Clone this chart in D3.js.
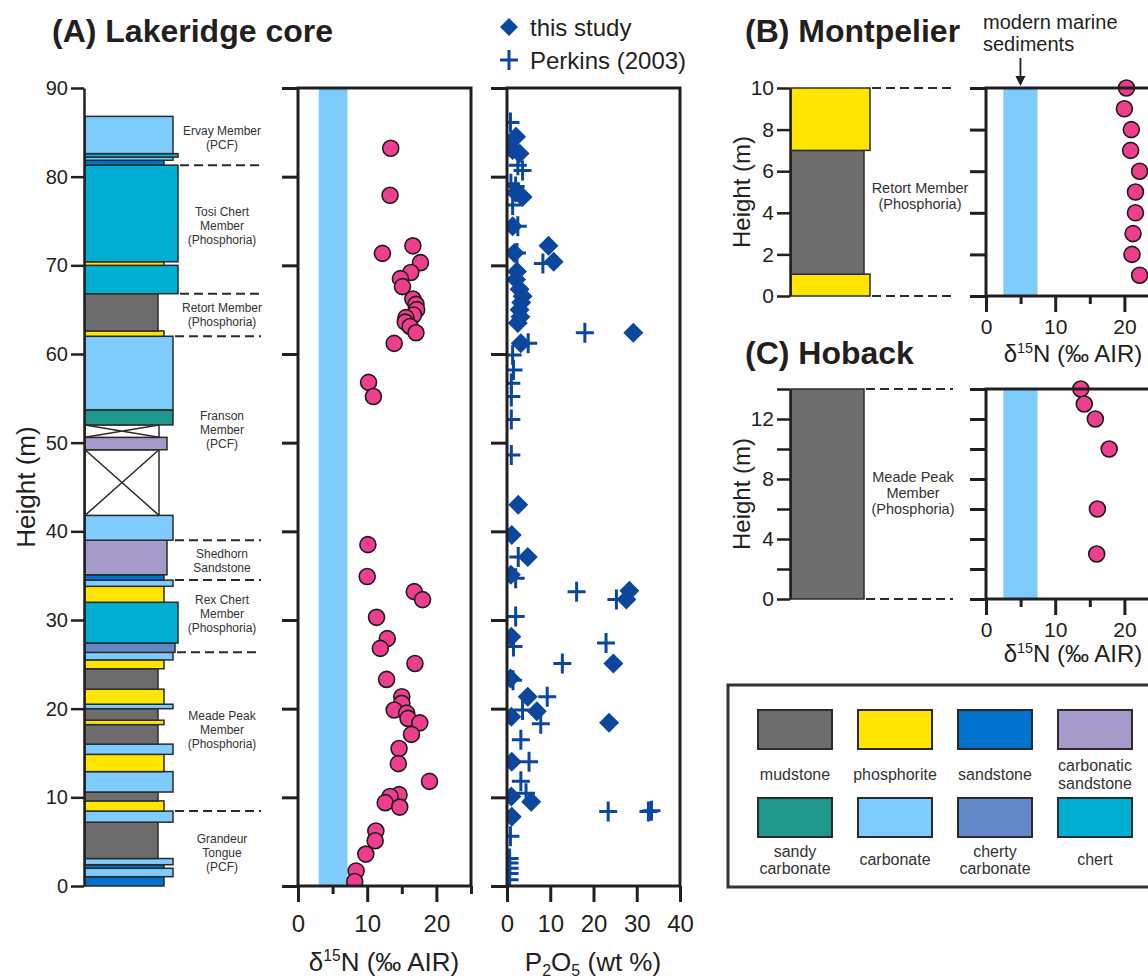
<!DOCTYPE html>
<html>
<head>
<meta charset="utf-8">
<script src="https://cdn.jsdelivr.net/npm/d3@7"></script>
<style>
  body { margin: 0; background: #fff; }
  text { font-family: "Liberation Sans", Arial, Helvetica, sans-serif; }
</style>
</head>
<body>
<svg id="fig" width="1148" height="979"></svg>
<script>
// ---- data ----------------------------------------------------------------

// Lakeridge core beds (m above base)
const lakeridgeBeds = [
  { base: 0, top: 1.05, lith: 'sandstone' },
  { base: 1.05, top: 2.0, lith: 'carbonate' },
  { base: 2.0, top: 2.4, lith: 'sandstone' },
  { base: 2.4, top: 3.1, lith: 'carbonate' },
  { base: 3.1, top: 7.2, lith: 'mudstone' },
  { base: 7.2, top: 8.45, lith: 'carbonate' },
  { base: 8.45, top: 9.6, lith: 'phosphorite' },
  { base: 9.6, top: 10.6, lith: 'mudstone' },
  { base: 10.6, top: 12.9, lith: 'carbonate' },
  { base: 12.9, top: 14.85, lith: 'phosphorite' },
  { base: 14.85, top: 16.0, lith: 'carbonate' },
  { base: 16.0, top: 18.2, lith: 'mudstone' },
  { base: 18.2, top: 18.7, lith: 'phosphorite' },
  { base: 18.7, top: 20.0, lith: 'mudstone' },
  { base: 20.0, top: 20.5, lith: 'carbonate' },
  { base: 20.5, top: 22.2, lith: 'phosphorite' },
  { base: 22.2, top: 24.5, lith: 'mudstone' },
  { base: 24.5, top: 25.5, lith: 'phosphorite' },
  { base: 25.5, top: 26.35, lith: 'carbonate' },
  { base: 26.35, top: 27.4, lith: 'cherty carbonate' },
  { base: 27.4, top: 32.0, lith: 'chert' },
  { base: 32.0, top: 33.8, lith: 'phosphorite' },
  { base: 33.8, top: 34.5, lith: 'carbonate' },
  { base: 34.5, top: 35.1, lith: 'sandstone' },
  { base: 35.1, top: 39.0, lith: 'carbonatic sandstone' },
  { base: 39.0, top: 41.8, lith: 'carbonate' },
  { base: 41.8, top: 49.2, lith: 'covered' },
  { base: 49.2, top: 50.6, lith: 'carbonatic sandstone' },
  { base: 50.6, top: 52.0, lith: 'covered' },
  { base: 52.0, top: 53.7, lith: 'sandy carbonate' },
  { base: 53.7, top: 62.0, lith: 'carbonate' },
  { base: 62.0, top: 62.6, lith: 'phosphorite' },
  { base: 62.6, top: 66.8, lith: 'mudstone' },
  { base: 66.8, top: 70.0, lith: 'chert' },
  { base: 70.0, top: 70.4, lith: 'phosphorite' },
  { base: 70.4, top: 81.3, lith: 'chert' },
  { base: 81.3, top: 81.85, lith: 'sandstone' },
  { base: 81.85, top: 82.2, lith: 'carbonate' },
  { base: 82.2, top: 82.6, lith: 'chert' },
  { base: 82.6, top: 86.8, lith: 'carbonate' }
];
const lakeridgeContacts = [8.45, 26.35, 34.5, 39.0, 62.0, 66.8, 81.3];
const lakeridgeMembers = [
  { lines: ['Ervay Member', '(PCF)'], at: 84.4 },
  { lines: ['Tosi Chert', 'Member', '(Phosphoria)'], at: 74.5 },
  { lines: ['Retort Member', '(Phosphoria)'], at: 64.4 },
  { lines: ['Franson', 'Member', '(PCF)'], at: 51.5 },
  { lines: ['Shedhorn', 'Sandstone'], at: 36.65 },
  { lines: ['Rex Chert', 'Member', '(Phosphoria)'], at: 30.7 },
  { lines: ['Meade Peak', 'Member', '(Phosphoria)'], at: 17.6 },
  { lines: ['Grandeur', 'Tongue', '(PCF)'], at: 3.8 }
];

// [height m, d15N permil]
const lakeridgeN = [
  [83.2, 13.4], [77.9, 13.3], [71.35, 12.2], [72.2, 16.6], [70.3, 17.7],
  [69.2, 16.3], [68.5, 14.8], [67.6, 15.1], [66.2, 16.6], [65.6, 17.05],
  [65.0, 17.15], [64.4, 16.7], [64.1, 15.6], [63.6, 15.5], [63.1, 16.2],
  [62.4, 17.05], [61.2, 13.9], [56.8, 10.2], [55.2, 10.9],
  [38.5, 10.1], [34.9, 10.0], [33.2, 16.8], [32.3, 18.0], [30.3, 11.35],
  [27.9, 12.9], [26.8, 11.9], [25.1, 16.9], [23.3, 12.8], [21.35, 15.0],
  [20.6, 15.0], [19.85, 13.9], [19.5, 15.7], [18.9, 15.9], [18.4, 17.6],
  [17.1, 16.4], [15.5, 14.6], [13.8, 14.5], [11.8, 19.0], [10.3, 14.6],
  [10.1, 13.3], [9.4, 12.6], [8.9, 14.7], [6.2, 11.25], [5.1, 11.15],
  [3.6, 9.8], [1.7, 8.4], [0.5, 8.2]
];

// [height m, P2O5 wt%]
const thisStudyP = [
  [84.5, 2.1], [83.0, 1.3], [82.6, 2.9], [78.2, 2.0], [77.7, 3.6], [74.4, 1.3],
  [71.4, 1.7], [72.2, 9.6], [70.4, 10.8], [69.3, 2.3], [68.4, 2.1], [67.3, 2.9],
  [66.5, 3.6], [65.8, 3.3], [65.0, 2.9], [64.2, 3.1], [63.5, 2.5], [62.4, 29.2],
  [61.2, 3.2], [43.0, 2.6], [39.6, 1.1], [37.1, 4.8], [35.1, 0.9], [33.3, 28.3],
  [32.3, 27.6], [28.1, 1.0], [25.1, 24.6], [23.4, 0.8], [21.35, 4.8], [19.7, 6.9],
  [19.1, 1.0], [18.4, 23.6], [14.0, 1.1], [10.1, 1.0], [9.5, 5.6], [7.8, 1.1]
];
const perkinsP = [
  [86.1, 0.8], [83.4, 0.6], [81.3, 2.5], [80.7, 3.6], [79.2, 0.9], [78.9, 2.0],
  [76.8, 1.3], [74.4, 2.5], [71.4, 2.3], [70.2, 8.3], [62.4, 18.0], [61.2, 4.9],
  [59.9, 1.3], [58.2, 1.5], [56.7, 1.0], [55.2, 1.0], [52.6, 1.0], [48.6, 1.0],
  [37.1, 2.6], [34.7, 2.0], [33.2, 16.1], [32.3, 25.3], [30.4, 2.0], [27.4, 22.9],
  [27.0, 1.5], [25.1, 12.8], [23.2, 1.4], [21.35, 9.3], [19.85, 3.6], [18.3, 7.8],
  [16.5, 3.2], [14.0, 5.1], [11.8, 3.2], [10.45, 4.4], [8.4, 23.4], [8.4, 32.7],
  [8.5, 33.4], [5.6, 0.8], [3.1, 0.6], [2.6, 0.6], [2.0, 0.6], [1.4, 0.6], [0.7, 0.6]
];

// Montpelier and Hoback sections
const montpelierBeds = [
  { base: 0, top: 1.05, lith: 'phosphorite' },
  { base: 1.05, top: 7.0, lith: 'mudstone' },
  { base: 7.0, top: 10, lith: 'phosphorite' }
];
const montpelierN = [
  [10, 20.3], [9, 20.0], [8, 21.0], [7, 20.9], [6, 22.2],
  [5, 21.6], [4, 21.6], [3, 21.25], [2, 21.1], [1, 22.2]
];
const hobackBeds = [{ base: 0, top: 14, lith: 'mudstone' }];
const hobackN = [[14, 13.7], [13, 14.2], [12, 15.8], [10, 17.8], [6, 16.1], [3, 16.0]];

const modernMarineA = [3, 7.15];
const modernMarineBC = [2.5, 7.45];

const legendOrder = ['mudstone', 'phosphorite', 'sandstone', 'carbonatic sandstone',
  'sandy carbonate', 'carbonate', 'cherty carbonate', 'chert'];
const legendLabels = [['mudstone'], ['phosphorite'], ['sandstone'], ['carbonatic', 'sandstone'],
  ['sandy', 'carbonate'], ['carbonate'], ['cherty', 'carbonate'], ['chert']];

// ---- styles --------------------------------------------------------------

const lithStyle = {
  mudstone: { fill: '#6d6d6d', w: 73 },
  phosphorite: { fill: '#ffe500', w: 79 },
  sandstone: { fill: '#0071cd', w: 79 },
  'carbonatic sandstone': { fill: '#a69acb', w: 82 },
  'sandy carbonate': { fill: '#1f978a', w: 88 },
  carbonate: { fill: '#7ecbfd', w: 88 },
  'cherty carbonate': { fill: '#6487c5', w: 90 },
  chert: { fill: '#00afd1', w: 93 },
  covered: { fill: '#fff', w: 74 }
};
const ink = '#231f20';
const pink = '#ef3e8d';
const blue = '#0b479e';
const bandBlue = '#7ecbfd';

const svg = d3.select('#fig');

// ---- helpers -------------------------------------------------------------

function drawColumn(g, beds, y, left, contacts, dashEnd) {
  g.selectAll('rect.bed').data(beds).join('rect')
    .attr('class', 'bed')
    .attr('x', left)
    .attr('y', d => y(d.top))
    .attr('width', d => lithStyle[d.lith].w)
    .attr('height', d => y(d.base) - y(d.top))
    .attr('fill', d => lithStyle[d.lith].fill)
    .attr('stroke', '#2b2b2b')
    .attr('stroke-width', 1.5);

  g.selectAll('path.cover').data(beds.filter(d => d.lith === 'covered')).join('path')
    .attr('class', 'cover')
    .attr('d', d => {
      const w = lithStyle.covered.w;
      return `M${left},${y(d.top)}L${left + w},${y(d.base)}M${left + w},${y(d.top)}L${left},${y(d.base)}`;
    })
    .attr('stroke', '#2b2b2b')
    .attr('stroke-width', 1.5)
    .attr('fill', 'none');

  g.selectAll('line.contact').data(contacts).join('line')
    .attr('class', 'contact')
    .attr('x1', c => left + 2 + d3.max(beds.filter(b => Math.abs(b.top - c) < 0.1 || Math.abs(b.base - c) < 0.1),
      b => lithStyle[b.lith].w))
    .attr('x2', dashEnd)
    .attr('y1', c => y(c)).attr('y2', c => y(c))
    .attr('stroke', '#2b2b2b')
    .attr('stroke-width', 2)
    .attr('stroke-dasharray', '9,5');
}

function memberLabel(g, lines, cx, cy, size, lead) {
  const t = g.append('text')
    .attr('text-anchor', 'middle')
    .attr('font-size', size)
    .attr('fill', '#333');
  lines.forEach((l, i) => {
    t.append('tspan')
      .attr('x', cx)
      .attr('y', cy + (i - (lines.length - 1) / 2) * lead)
      .attr('dy', '0.35em')
      .text(l);
  });
}

function heightAxis(g, y, x, ticks, labels, size) {
  g.append('g')
    .attr('transform', `translate(${x},0)`)
    .call(d3.axisLeft(y).tickValues(ticks).tickSize(13).tickSizeOuter(0).tickPadding(3)
      .tickFormat(d => labels.includes(d) ? d : ''))
    .call(a => a.select('.domain').attr('stroke', ink).attr('stroke-width', 2.5))
    .call(a => a.selectAll('.tick line').attr('stroke', ink).attr('stroke-width', 2.5))
    .call(a => a.selectAll('.tick text').attr('fill', ink).attr('font-size', size)
      .attr('font-family', '"Liberation Sans", Arial, sans-serif'));
}

function yTitle(x, y, size) {
  svg.append('text')
    .attr('transform', `translate(${x},${y}) rotate(-90)`)
    .attr('text-anchor', 'middle')
    .attr('font-size', size)
    .attr('fill', ink)
    .text('Height (m)');
}

// boxed data panel with ticks on the left and bottom
function frame(g, x, y, yTicks, xTicks, xMajor, tickSize, labelY) {
  const [x0, x1] = x.range();
  const [yb, yt] = y.range();
  g.append('g')
    .attr('transform', `translate(${x0},0)`)
    .call(d3.axisLeft(y).tickValues(yTicks).tickSize(16).tickSizeOuter(0).tickFormat(''))
    .call(a => a.select('.domain').remove())
    .call(a => a.selectAll('.tick line').attr('stroke', ink).attr('stroke-width', 3));

  const bx = g.append('g')
    .attr('transform', `translate(0,${yb})`)
    .call(d3.axisBottom(x).tickValues(xTicks).tickSize(16).tickSizeOuter(0).tickPadding(4)
      .tickFormat(d => xMajor.includes(d) ? d : ''));
  bx.select('.domain').remove();
  bx.selectAll('.tick line')
    .attr('stroke', ink).attr('stroke-width', 3)
    .attr('y2', d => xMajor.includes(d) ? 16 : 8);
  bx.selectAll('.tick text')
    .attr('fill', ink)
    .attr('font-size', tickSize)
    .attr('font-family', '"Liberation Sans", Arial, sans-serif')
    .attr('y', labelY)
    .attr('dy', 0);

  g.append('rect')
    .attr('x', x0).attr('y', yt)
    .attr('width', x1 - x0).attr('height', yb - yt)
    .attr('fill', 'none')
    .attr('stroke', ink)
    .attr('stroke-width', 3);
}

function clipTo(id, x, y) {
  const [x0, x1] = x.range();
  const [yb, yt] = y.range();
  svg.append('clipPath').attr('id', id)
    .append('rect').attr('x', x0).attr('y', yt).attr('width', x1 - x0).attr('height', yb - yt);
}

function deltaTitle(cx, y, size) {
  const t = svg.append('text')
    .attr('x', cx).attr('y', y)
    .attr('text-anchor', 'middle')
    .attr('font-size', size)
    .attr('fill', ink);
  t.append('tspan').text('δ');
  t.append('tspan').attr('font-size', size * 0.6).attr('dy', -size * 0.38).text('15');
  t.append('tspan').attr('dy', size * 0.38).text('N (‰ AIR)');
}

function band(g, x, y, range) {
  g.append('rect')
    .attr('x', x(range[0])).attr('width', x(range[1]) - x(range[0]))
    .attr('y', y.range()[1]).attr('height', y.range()[0] - y.range()[1])
    .attr('fill', bandBlue);
}

function dots(g, data, x, y) {
  g.selectAll('circle').data(data).join('circle')
    .attr('cx', d => x(d[1]))
    .attr('cy', d => y(d[0]))
    .attr('r', 8)
    .attr('fill', pink)
    .attr('stroke', '#1d1d1d')
    .attr('stroke-width', 1.6);
}

const diamond = s => `M0,${-s}L${s},0L0,${s}L${-s},0Z`;
const cross = s => `M${-s},0H${s}M0,${-s - 1}V${s + 1}`;

// ---- (A) Lakeridge core --------------------------------------------------

const yA = d3.scaleLinear().domain([0, 90]).range([886, 88]);
const xNA = d3.scaleLinear().domain([0, 25]).range([298, 471]);
const xP = d3.scaleLinear().domain([0, 40]).range([507, 680]);

svg.append('text')
  .attr('x', 52).attr('y', 42)
  .attr('font-size', 32).attr('font-weight', 'bold').attr('fill', ink)
  .text('(A) Lakeridge core');

const colA = svg.append('g');
drawColumn(colA, lakeridgeBeds, yA, 85, lakeridgeContacts, 261);
lakeridgeMembers.forEach(m => memberLabel(colA, m.lines, 222, yA(m.at), 12, 14));
heightAxis(svg, yA, 84, d3.range(0, 91, 10), d3.range(0, 91, 10), 20);
yTitle(35, 487, 26);

// d15N
const nA = svg.append('g');
clipTo('clipNA', xNA, yA);
band(nA, xNA, yA, modernMarineA);
dots(nA.append('g').attr('clip-path', 'url(#clipNA)'), lakeridgeN, xNA, yA);
frame(nA, xNA, yA, d3.range(0, 91, 10), [0, 5, 10, 15, 20, 25], [0, 10, 20], 24, 46);
deltaTitle(384, 971, 26);

// P2O5
const pA = svg.append('g');
clipTo('clipP', xP, yA);
const pMarks = pA.append('g').attr('clip-path', 'url(#clipP)');
pMarks.selectAll('path.perkins').data(perkinsP).join('path')
  .attr('class', 'perkins')
  .attr('transform', d => `translate(${xP(d[1])},${yA(d[0])})`)
  .attr('d', cross(9))
  .attr('stroke', blue).attr('stroke-width', 3).attr('fill', 'none');
pMarks.selectAll('path.study').data(thisStudyP).join('path')
  .attr('class', 'study')
  .attr('transform', d => `translate(${xP(d[1])},${yA(d[0])})`)
  .attr('d', diamond(10))
  .attr('fill', blue);
frame(pA, xP, yA, d3.range(0, 91, 10), [0, 10, 20, 30, 40], [0, 10, 20, 30, 40], 24, 46);

const pt = svg.append('text')
  .attr('x', 593).attr('y', 971)
  .attr('text-anchor', 'middle')
  .attr('font-size', 26).attr('fill', ink);
pt.append('tspan').text('P');
pt.append('tspan').attr('font-size', 16).attr('dy', 5).text('2');
pt.append('tspan').attr('dy', -5).text('O');
pt.append('tspan').attr('font-size', 16).attr('dy', 5).text('5');
pt.append('tspan').attr('dy', -5).text(' (wt %)');

// marker legend
const ml = svg.append('g');
ml.append('path').attr('transform', 'translate(509,27)').attr('d', diamond(9)).attr('fill', blue);
ml.append('path').attr('transform', 'translate(509,60)').attr('d', cross(9))
  .attr('stroke', blue).attr('stroke-width', 3);
ml.append('text').attr('x', 530).attr('y', 36).attr('font-size', 24).attr('fill', ink).text('this study');
ml.append('text').attr('x', 530).attr('y', 69).attr('font-size', 24).attr('fill', ink).text('Perkins (2003)');

// ---- (B) Montpelier ------------------------------------------------------

const yB = d3.scaleLinear().domain([0, 10]).range([296, 88]);
const xNB = d3.scaleLinear().domain([0, 25]).range([986, 1159]);

svg.append('text')
  .attr('x', 745).attr('y', 42)
  .attr('font-size', 32).attr('font-weight', 'bold').attr('fill', ink)
  .text('(B) Montpelier');

const colB = svg.append('g');
drawColumn(colB, montpelierBeds, yB, 791, [0, 10], 953);
memberLabel(colB, ['Retort Member', '(Phosphoria)'], 920, 196, 14.5, 16);
heightAxis(svg, yB, 790, d3.range(0, 11, 2), d3.range(0, 11, 2), 21);
yTitle(750, 192, 24);

const nB = svg.append('g');
band(nB, xNB, yB, modernMarineBC);
dots(nB, montpelierN, xNB, yB);
frame(nB, xNB, yB, d3.range(0, 11, 2), [0, 5, 10, 15, 20, 25], [0, 10, 20], 21, 38);
deltaTitle(1073, 362, 24);

// arrow to the modern marine band
const am = xNB(d3.mean(modernMarineBC));
svg.append('text').attr('font-size', 20).attr('fill', ink)
  .call(t => t.append('tspan').attr('x', 983).attr('y', 29).text('modern marine'))
  .call(t => t.append('tspan').attr('x', 983).attr('y', 51).text('sediments'));
svg.append('line').attr('x1', am).attr('x2', am).attr('y1', 58).attr('y2', 78)
  .attr('stroke', ink).attr('stroke-width', 1.8);
svg.append('path').attr('d', `M${am - 5},76L${am + 5},76L${am},86Z`).attr('fill', ink);

// ---- (C) Hoback ----------------------------------------------------------

const yC = d3.scaleLinear().domain([0, 14]).range([599, 389]);
const xNC = d3.scaleLinear().domain([0, 25]).range([986, 1159]);

svg.append('text')
  .attr('x', 745).attr('y', 364)
  .attr('font-size', 32).attr('font-weight', 'bold').attr('fill', ink)
  .text('(C) Hoback');

const colC = svg.append('g');
drawColumn(colC, hobackBeds, yC, 791, [0, 14], 953);
memberLabel(colC, ['Meade Peak', 'Member', '(Phosphoria)'], 913, 493, 14.5, 16);
heightAxis(svg, yC, 790, d3.range(0, 15, 2), [0, 4, 8, 12], 21);
yTitle(750, 494, 24);

const nC = svg.append('g');
band(nC, xNC, yC, modernMarineBC);
dots(nC, hobackN, xNC, yC);
frame(nC, xNC, yC, d3.range(0, 15, 2), [0, 5, 10, 15, 20, 25], [0, 10, 20], 21, 38);
deltaTitle(1073, 662, 24);

// ---- lithology legend ----------------------------------------------------

const lg = svg.append('g');
lg.append('rect')
  .attr('x', 728).attr('y', 685).attr('width', 460).attr('height', 202)
  .attr('fill', 'none').attr('stroke', '#333').attr('stroke-width', 3);

const cellX = d3.scalePoint().domain(d3.range(4)).range([758, 1058]);
const rowY = [710, 798];
const labelY = [[780], [771, 789]];
const labelY2 = [[865], [857, 874]];

legendOrder.forEach((lith, i) => {
  const col = i % 4, row = Math.floor(i / 4);
  const x = cellX(col);
  lg.append('rect')
    .attr('x', x).attr('y', rowY[row]).attr('width', 74).attr('height', 39)
    .attr('fill', lithStyle[lith].fill)
    .attr('stroke', '#2b2b2b').attr('stroke-width', 2);
  const lines = legendLabels[i];
  const ys = (row === 0 ? labelY : labelY2)[lines.length - 1];
  lines.forEach((l, j) => {
    lg.append('text')
      .attr('x', x + 37).attr('y', ys[j])
      .attr('text-anchor', 'middle')
      .attr('font-size', 16).attr('fill', '#333')
      .text(l);
  });
});
</script>
</body>
</html>
